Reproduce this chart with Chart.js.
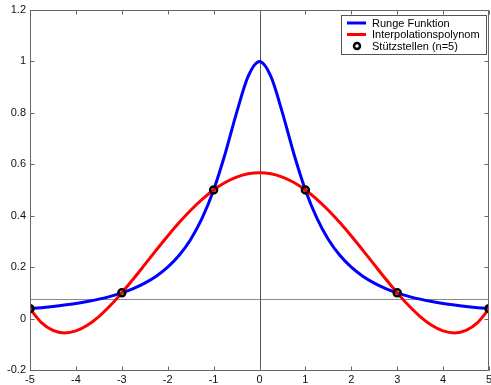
<!DOCTYPE html>
<html>
<head>
<meta charset="utf-8">
<script src="https://cdn.jsdelivr.net/npm/chart.js@4/dist/chart.umd.min.js"></script>
<style>
  html, body { margin: 0; padding: 0; background: #fff; }
  #wrap { width: 491px; height: 385px; }
</style>
</head>
<body>
<div id="wrap"><canvas id="rungeChart"></canvas></div>
<script>
// ===== Data =====
const xs = [-5, -4.75, -4.5, -4.25, -4, -3.75, -3.5, -3.25, -3, -2.75, -2.5, -2.25, -2, -1.75, -1.5, -1.25, -1, -0.75, -0.5, -0.25,
  0, 0.25, 0.5, 0.75, 1, 1.25, 1.5, 1.75, 2, 2.25, 2.5, 2.75, 3, 3.25, 3.5, 3.75, 4, 4.25, 4.5, 4.75, 5];
const rungeValues = [0.0385, 0.0424, 0.0471, 0.0525, 0.0588, 0.0664, 0.0755, 0.0865, 0.1, 0.1168, 0.1379, 0.1649, 0.2, 0.2462, 0.3077, 0.3902, 0.5, 0.64, 0.8, 0.9412,
  1, 0.9412, 0.8, 0.64, 0.5, 0.3902, 0.3077, 0.2462, 0.2, 0.1649, 0.1379, 0.1168, 0.1, 0.0865, 0.0755, 0.0664, 0.0588, 0.0525, 0.0471, 0.0424, 0.0385];
const polyValues = [0.0385, -0.0157, -0.046, -0.0558, -0.0481, -0.026, 0.0078, 0.0506, 0.1, 0.1537, 0.2097, 0.2661, 0.3212, 0.3733, 0.4213, 0.4638, 0.5, 0.529, 0.5501, 0.563,
  0.5673, 0.563, 0.5501, 0.529, 0.5, 0.4638, 0.4213, 0.3733, 0.3212, 0.2661, 0.2097, 0.1537, 0.1, 0.0506, 0.0078, -0.026, -0.0481, -0.0558, -0.046, -0.0157, 0.0385];
const nodeX = [-5, -3, -1, 1, 3, 5];
const nodeY = [0.0385, 0.1, 0.5, 0.5, 0.1, 0.0385];
const xTicks = [-5, -4, -3, -2, -1, 0, 1, 2, 3, 4, 5];
const yTicks = [-0.2, 0, 0.2, 0.4, 0.6, 0.8, 1, 1.2];
const hLineY = 0.078;

const toPoints = (xArr, yArr) => xArr.map((x, i) => ({ x: x, y: yArr[i] }));

// ===== Box, inward ticks, cross lines, legend =====
const matlabFrame = {
  id: 'matlabFrame',
  beforeDatasetsDraw(chart) {
    const { ctx, chartArea: a, scales: { x, y } } = chart;
    ctx.save();
    ctx.lineWidth = 1;
    // horizontal grey line
    ctx.strokeStyle = '#8a8a8a';
    const hy = Math.round(y.getPixelForValue(hLineY)) + 0.5;
    ctx.beginPath(); ctx.moveTo(a.left, hy); ctx.lineTo(a.right, hy); ctx.stroke();
    // vertical line at x = 0
    ctx.strokeStyle = '#555';
    const vx = Math.round(x.getPixelForValue(0)) + 0.5;
    ctx.beginPath(); ctx.moveTo(vx, a.top); ctx.lineTo(vx, a.bottom); ctx.stroke();
    ctx.restore();
  },
  afterDraw(chart) {
    const { ctx, chartArea: a, scales: { x, y } } = chart;
    ctx.save();
    ctx.strokeStyle = '#666';
    ctx.lineWidth = 1;
    const L = Math.round(a.left) + 0.5, R = Math.round(a.right) - 0.5;
    const T = Math.round(a.top) + 0.5, B = Math.round(a.bottom) + 0.5;
    ctx.strokeRect(L, T, R - L, B - T);
    const tl = 4;
    ctx.beginPath();
    xTicks.forEach(v => {
      const px = Math.round(x.getPixelForValue(v)) + 0.5;
      ctx.moveTo(px, B); ctx.lineTo(px, B - tl);
      ctx.moveTo(px, T); ctx.lineTo(px, T + tl);
    });
    yTicks.forEach(v => {
      const py = Math.round(y.getPixelForValue(v)) + 0.5;
      ctx.moveTo(L, py); ctx.lineTo(L + tl, py);
      ctx.moveTo(R, py); ctx.lineTo(R - tl, py);
    });
    ctx.stroke();

    // legend box
    const bx = 341.5, by = 15.5, bw = 145, bh = 39;
    ctx.fillStyle = '#fff';
    ctx.fillRect(bx, by, bw, bh);
    ctx.strokeStyle = '#555';
    ctx.strokeRect(bx, by, bw, bh);
    ctx.font = '11px "Liberation Sans", Arial, sans-serif';
    ctx.textBaseline = 'middle';
    const rows = [23, 34.5, 46];
    const ds = chart.data.datasets;
    ds.forEach((d, i) => {
      const ry = rows[i];
      if (d.showLine === false) {
        ctx.beginPath();
        ctx.arc(357, ry, 3, 0, Math.PI * 2);
        ctx.lineWidth = 2.5;
        ctx.strokeStyle = '#000';
        ctx.stroke();
      } else {
        ctx.beginPath();
        ctx.moveTo(347, ry); ctx.lineTo(366, ry);
        ctx.lineWidth = 3;
        ctx.strokeStyle = d.borderColor;
        ctx.stroke();
      }
      ctx.fillStyle = '#000';
      ctx.fillText(d.label, 372, ry + 0.5);
    });
    ctx.restore();
  }
};

const rungeChart = new Chart(document.getElementById('rungeChart'), {
  type: 'line',
  data: {
    datasets: [
      {
        label: 'Runge Funktion',
        data: toPoints(xs, rungeValues),
        borderColor: '#0000ff',
        borderWidth: 3,
        pointRadius: 0,
        cubicInterpolationMode: 'monotone',
        order: 2
      },
      {
        label: 'Interpolationspolynom',
        data: toPoints(xs, polyValues),
        borderColor: '#ff0000',
        borderWidth: 3,
        pointRadius: 0,
        cubicInterpolationMode: 'monotone',
        order: 1
      },
      {
        label: 'Stützstellen (n=5)',
        data: toPoints(nodeX, nodeY),
        showLine: false,
        pointRadius: 3.5,
        pointBorderWidth: 2.5,
        pointBorderColor: '#000',
        pointBackgroundColor: 'rgba(0,0,0,0)',
        order: 0
      }
    ]
  },
  options: {
    responsive: true,
    maintainAspectRatio: false,
    animation: false,
    events: [],
    layout: { autoPadding: false, padding: { top: 10, right: 2, left: 0, bottom: 0 } },
    plugins: { legend: { display: false }, tooltip: { enabled: false } },
    scales: {
      x: {
        type: 'linear',
        min: -5,
        max: 5,
        grid: { display: false, drawTicks: false },
        border: { display: false },
        afterBuildTicks: s => { s.ticks = xTicks.map(v => ({ value: v })); },
        afterFit: s => { s.height = 15; s.paddingLeft = 0; s.paddingRight = 0; },
        ticks: {
          color: '#111',
          padding: 3,
          maxRotation: 0,
          autoSkip: false,
          font: { family: '"Liberation Sans", Arial, sans-serif', size: 11 },
          callback: v => String(v)
        }
      },
      y: {
        type: 'linear',
        min: -0.2,
        max: 1.2,
        grid: { display: false, drawTicks: false },
        border: { display: false },
        afterBuildTicks: s => { s.ticks = yTicks.map(v => ({ value: v })); },
        afterFit: s => { s.width = 30; s.paddingTop = 0; s.paddingBottom = 0; },
        ticks: {
          color: '#111',
          padding: 4,
          autoSkip: false,
          font: { family: '"Liberation Sans", Arial, sans-serif', size: 11 },
          callback: v => String(v)
        }
      }
    }
  },
  plugins: [matlabFrame]
});
</script>
</body>
</html>
